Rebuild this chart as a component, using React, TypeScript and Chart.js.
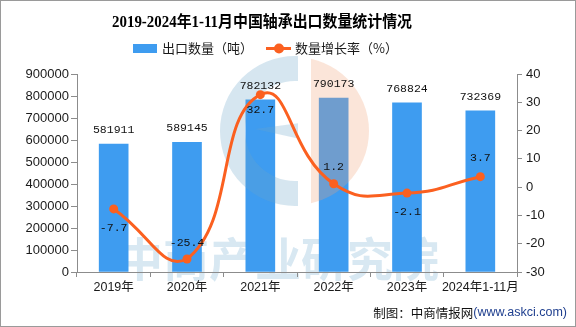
import React, { useEffect, useRef } from "react";
import { Chart, registerables } from "chart.js";

Chart.register(...registerables);

const categories = ["2019年", "2020年", "2021年", "2022年", "2023年", "2024年1-11月"];
const exportVolume = [581911, 589145, 782132, 790173, 768824, 732369];
const growthRate = [-7.7, -25.4, 32.7, 1.2, -2.1, 3.7];
const leftTicks = [0, 900000, 100000];
const rightTicks = [-30, 40, 10];
const titleText = "2019-2024年1-11月中国轴承出口数量统计情况";
const legendBar = "出口数量（吨）";
const legendLine = "数量增长率（%）";
const sourceA = "制图：中商情报网";
const sourceB = "(www.askci.com)";
const watermarkText = "中商产业研究院";

// label vertical offsets relative to points (style)
const growthLabelOffsets = [19, -16, 15, -17, 19, -19];

const BAR_COLOR = "#3e9cf0";
const LINE_COLOR = "#fb6020";
const AXIS_COLOR = "#8c8c8c";
const TEXT_COLOR = "#1a1a1a";

const decorPlugin = {
  id: "decor",
  beforeDraw(chart: any) {
    const ctx = chart.ctx;
    ctx.save();
    ctx.fillStyle = "#ffffff";
    ctx.fillRect(0, 0, chart.width, chart.height);
    ctx.fillStyle = "#d8e8f2";
    ctx.font = "bold 46px 'Noto Sans CJK SC'";
    ctx.textAlign = "left";
    ctx.textBaseline = "middle";
    ctx.fillText(watermarkText, 117, 259, 333);
    ctx.restore();
  },
  afterDatasetDraw(chart: any, args: any) {
    if (args.index !== 0) return;
    const ctx = chart.ctx;
    const cx = 295;
    const cy = 131;
    ctx.save();
    ctx.globalAlpha = 0.28;
    // blue C
    ctx.save();
    ctx.beginPath();
    ctx.rect(0, 55, 298, 300);
    ctx.clip();
    ctx.fillStyle = "rgb(108,165,202)";
    ctx.beginPath();
    ctx.arc(cx, cy, 75, 0, Math.PI * 2);
    ctx.arc(cx, cy, 50, 0, Math.PI * 2, true);
    ctx.fill("evenodd");
    ctx.beginPath();
    ctx.moveTo(cx + 5, cy - 8);
    ctx.lineTo(cx - 40, cy - 2);
    ctx.lineTo(cx + 5, cy + 8);
    ctx.closePath();
    ctx.fill();
    ctx.restore();
    // orange half
    ctx.save();
    ctx.beginPath();
    ctx.rect(311, 55, 100, 300);
    ctx.clip();
    ctx.fillStyle = "rgb(242,160,120)";
    ctx.beginPath();
    ctx.arc(cx, cy, 74, 0, Math.PI * 2);
    ctx.fill();
    ctx.restore();
    ctx.restore();
  },
  afterDraw(chart: any) {
    const ctx = chart.ctx;
    ctx.save();
    // border
    ctx.strokeStyle = "#9a9a9a";
    ctx.lineWidth = 1;
    ctx.strokeRect(0.5, 0.5, chart.width - 1, chart.height - 1);

    // title
    ctx.fillStyle = "#000000";
    ctx.font = "bold 16px 'Liberation Serif', 'Noto Sans CJK SC'";
    ctx.textAlign = "center";
    ctx.textBaseline = "middle";
    ctx.fillText(titleText, 262, 23, 300);

    // legend
    ctx.fillStyle = BAR_COLOR;
    ctx.fillRect(133, 44, 24, 9);
    ctx.fillStyle = TEXT_COLOR;
    ctx.font = "13px 'Noto Sans CJK SC'";
    ctx.textAlign = "left";
    ctx.fillText(legendBar, 162, 48.5);
    ctx.strokeStyle = LINE_COLOR;
    ctx.lineWidth = 3;
    ctx.beginPath();
    ctx.moveTo(266, 48.5);
    ctx.lineTo(291, 48.5);
    ctx.stroke();
    ctx.fillStyle = LINE_COLOR;
    ctx.beginPath();
    ctx.arc(279, 48.5, 5, 0, Math.PI * 2);
    ctx.fill();
    ctx.fillStyle = TEXT_COLOR;
    ctx.fillText(legendLine, 295, 48.5);

    // data labels
    const barMeta = chart.getDatasetMeta(0);
    const lineMeta = chart.getDatasetMeta(1);
    ctx.font = "11.5px 'Liberation Mono', 'DejaVu Sans Mono'";
    ctx.textAlign = "center";
    ctx.fillStyle = "#111111";
    barMeta.data.forEach((el: any, i: number) => {
      ctx.fillText(String(exportVolume[i]), el.x, el.y - 14);
    });
    lineMeta.data.forEach((el: any, i: number) => {
      ctx.fillText(String(growthRate[i]), el.x, el.y + growthLabelOffsets[i]);
    });

    // source
    ctx.textAlign = "right";
    ctx.fillStyle = "#1f3f8f";
    ctx.font = "12.5px 'Liberation Sans'";
    ctx.fillText(sourceB, 567, 313);
    const wB = ctx.measureText(sourceB).width;
    ctx.fillStyle = "#111111";
    ctx.font = "12.5px 'Noto Sans CJK SC'";
    ctx.fillText(sourceA, 567 - wB, 313);
    ctx.restore();
  },
};

export default function App() {
  const ref = useRef<HTMLCanvasElement | null>(null);
  useEffect(() => {
    document.body.style.margin = "0";
    const canvas = ref.current;
    if (!canvas) return;
    const tickFont = { family: "'Liberation Sans', 'Noto Sans CJK SC'", size: 13 };
    const plain = (v: any) => String(v);
    const chart = new Chart(canvas, {
      type: "bar",
      data: {
        labels: categories,
        datasets: [
          {
            type: "bar",
            label: legendBar,
            data: exportVolume,
            backgroundColor: BAR_COLOR,
            barThickness: 29,
            yAxisID: "y",
            order: 2,
          },
          {
            type: "line",
            label: legendLine,
            data: growthRate,
            borderColor: LINE_COLOR,
            backgroundColor: LINE_COLOR,
            borderWidth: 3,
            pointRadius: 4.5,
            pointBackgroundColor: LINE_COLOR,
            pointBorderWidth: 0,
            tension: 0.5,
            yAxisID: "y1",
            order: 1,
          } as any,
        ],
      },
      options: {
        responsive: false,
        animation: false,
        devicePixelRatio: 1,
        layout: { padding: { top: 74, bottom: 35, left: 0, right: 0 } },
        plugins: {
          legend: { display: false },
          title: { display: false },
          tooltip: { enabled: false },
        },
        scales: {
          x: {
            offset: true,
            grid: {
              display: true,
              drawOnChartArea: false,
              drawTicks: true,
              tickLength: 5,
              color: AXIS_COLOR,
              offset: true,
            },
            border: { display: true, color: AXIS_COLOR },
            ticks: {
              color: TEXT_COLOR,
              font: { family: "'Liberation Sans', 'Noto Sans CJK SC'", size: 12.5 },
              padding: 3,
              maxRotation: 0,
              autoSkip: false,
            },
            afterFit(scale: any) {
              scale.height = 20;
            },
          },
          y: {
            position: "left",
            min: leftTicks[0],
            max: leftTicks[1],
            ticks: { stepSize: leftTicks[2], color: TEXT_COLOR, font: tickFont, padding: 2, callback: plain },
            grid: {
              display: true,
              drawOnChartArea: false,
              drawTicks: true,
              tickLength: 6,
              color: AXIS_COLOR,
            },
            border: { display: true, color: AXIS_COLOR },
            afterFit(scale: any) {
              scale.width = 77;
            },
          },
          y1: {
            position: "right",
            min: rightTicks[0],
            max: rightTicks[1],
            ticks: { stepSize: rightTicks[2], color: TEXT_COLOR, font: tickFont, padding: 4, callback: plain },
            grid: {
              display: true,
              drawOnChartArea: false,
              drawTicks: true,
              tickLength: 5,
              color: AXIS_COLOR,
            },
            border: { display: true, color: AXIS_COLOR },
            afterFit(scale: any) {
              scale.width = 59;
            },
          },
        },
      },
      plugins: [decorPlugin],
    });
    return () => chart.destroy();
  }, []);
  return (
    <div style={{ width: 576, height: 327 }}>
      <canvas ref={ref} width={576} height={327} style={{ width: 576, height: 327, display: "block" }} />
    </div>
  );
}
